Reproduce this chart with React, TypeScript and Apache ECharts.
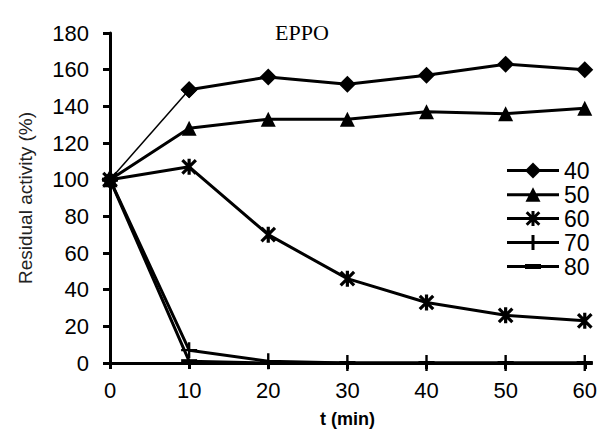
import React, { useEffect, useRef } from "react";
import * as echarts from "echarts";

const times = [0, 10, 20, 30, 40, 50, 60];
const s40 = [100, 149, 156, 152, 157, 163, 160];
const s50 = [100, 128, 133, 133, 137, 136, 139];
const s60 = [100, 107, 70, 46, 33, 26, 23];
const s70 = [100, 7, 1, 0, 0, 0, 0];
const s80 = [100, 1, 0, 0, 0, 0, 0];
const seriesNames = ["40", "50", "60", "70", "80"];

const asterisk =
  "path://M-0.2,-1L0.2,-1L0.2,1L-0.2,1Z" +
  "M-0.7,-0.983L0.983,0.7L0.7,0.983L-0.983,-0.7Z" +
  "M-0.983,0.7L0.7,-0.983L0.983,-0.7L-0.7,0.983Z";
const plus =
  "path://M-0.15,-1L0.15,-1L0.15,-0.15L1,-0.15L1,0.15L0.15,0.15L0.15,1L-0.15,1L-0.15,0.15L-1,0.15L-1,-0.15L-0.15,-0.15Z";
const dash = "path://M-1,-0.25L1,-0.25L1,0.25L-1,0.25Z";

// legend icons: line + marker, drawn as one filled path (52 x 16 box)
const bar = "M0,6.5L52,6.5L52,9.5L0,9.5Z";
const legendIcons = [
  "path://" + bar + "M26,0L34,8L26,16L18,8Z",
  "path://" + bar + "M26,0.5L33.5,15L18.5,15Z",
  "path://" + bar +
    "M24.5,0.5L27.5,0.5L27.5,15.5L24.5,15.5Z" +
    "M20.75,0.63L33.37,13.25L31.25,15.37L18.63,2.75Z" +
    "M18.63,13.25L31.25,0.63L33.37,2.75L20.75,15.37Z",
  "path://" + bar +
    "M24.5,0.5L27.5,0.5L27.5,6.5L33.5,6.5L33.5,9.5L27.5,9.5L27.5,15.5L24.5,15.5L24.5,9.5L18.5,9.5L18.5,6.5L24.5,6.5Z",
  "path://" + bar + "M18,5.5L34,5.5L34,10.5L18,10.5Z",
];

export default function App() {
  const ref = useRef<HTMLDivElement>(null);
  useEffect(() => {
    const chart = echarts.init(ref.current!, null, { renderer: "svg" });
    const pts = (arr: number[]) => arr.map((v, i) => [times[i], v]);
    const base = {
      type: "line",
      lineStyle: { color: "#000", width: 3 },
      itemStyle: { color: "#000" },
      symbolKeepAspect: true,
      emphasis: { disabled: true },
    };
    chart.setOption({
      animation: false,
      title: {
        text: "EPPO",
        left: 262,
        top: 8,
        textStyle: { fontFamily: "Liberation Serif", fontSize: 22, fontWeight: "normal", color: "#000" },
      },
      legend: {
        orient: "vertical",
        left: 499,
        top: 151,
        padding: 0,
        itemWidth: 52,
        itemHeight: 16,
        itemGap: 1,
        symbolKeepAspect: true,
        data: seriesNames.map((n, i) => ({ name: n, icon: legendIcons[i] })),
        textStyle: { fontFamily: "Liberation Sans", fontSize: 23, color: "#000", lineHeight: 22 },
      },
      grid: { left: 96, right: 5, top: 25, bottom: 72 },
      xAxis: {
        type: "value",
        min: 0,
        max: 60,
        interval: 10,
        name: "t (min)",
        nameLocation: "middle",
        nameGap: 47,
        nameTextStyle: { fontFamily: "Liberation Sans", fontSize: 18, fontWeight: "bold", color: "#000" },
        axisLine: { lineStyle: { color: "#000", width: 3 } },
        axisTick: { lineStyle: { color: "#000", width: 3 }, length: 6 },
        axisLabel: { fontFamily: "Liberation Sans", fontSize: 22, color: "#000", margin: 16 },
        splitLine: { show: false },
      },
      yAxis: {
        type: "value",
        min: 0,
        max: 180,
        interval: 20,
        name: "Residual activity (%)",
        nameLocation: "middle",
        nameGap: 75,
        nameTextStyle: { fontFamily: "Liberation Sans", fontSize: 19, color: "#222" },
        axisLine: { show: true, lineStyle: { color: "#000", width: 3 } },
        axisTick: { show: true, lineStyle: { color: "#000", width: 3 }, length: 7 },
        axisLabel: { fontFamily: "Liberation Sans", fontSize: 22, color: "#000", margin: 21 },
        splitLine: { show: false },
      },
      series: [
        {
          ...base,
          name: "40",
          data: pts(s40).slice(0, 2),
          symbol: "diamond",
          symbolSize: 17,
          lineStyle: { color: "#000", width: 1.5 },
        },
        { ...base, name: "40", data: pts(s40).slice(1), symbol: "diamond", symbolSize: 17 },
        { ...base, name: "50", data: pts(s50), symbol: "triangle", symbolSize: 15 },
        { ...base, name: "60", data: pts(s60), symbol: asterisk, symbolSize: 16 },
        { ...base, name: "70", data: pts(s70), symbol: plus, symbolSize: 16 },
        { ...base, name: "80", data: pts(s80), symbol: dash, symbolSize: 16 },
      ],
    });
    return () => chart.dispose();
  }, []);
  return <div ref={ref} style={{ width: 592, height: 427 }} />;
}
